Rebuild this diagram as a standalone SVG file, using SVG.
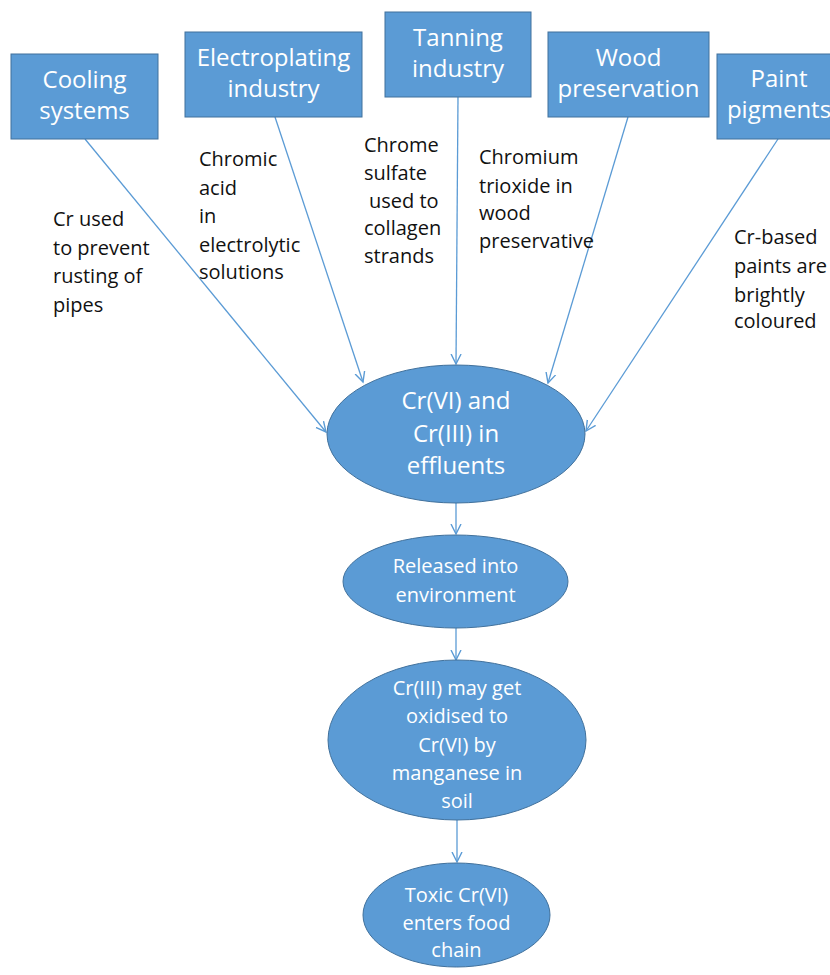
<svg xmlns="http://www.w3.org/2000/svg" width="830" height="975" viewBox="0 0 830 975">
<defs>
<style>
.box{fill:#5B9BD5;stroke:#41719C;stroke-width:1}
.ell{fill:#5B9BD5;stroke:#41719C;stroke-width:1}
.bt{font-family:"Open Sans","Liberation Sans",sans-serif;font-size:24px;fill:#fff;text-anchor:middle}
.et{font-family:"Open Sans","Liberation Sans",sans-serif;font-size:24px;fill:#fff;text-anchor:middle}
.st{font-family:"Open Sans","Liberation Sans",sans-serif;font-size:20px;fill:#fff;text-anchor:middle}
.an{font-family:"Open Sans","Liberation Sans",sans-serif;font-size:20px;fill:#111}
.cn{stroke:#5B9BD5;stroke-width:1.3;fill:none;marker-end:url(#ah)}
</style>
<marker id="ah" markerUnits="userSpaceOnUse" markerWidth="12" markerHeight="12" refX="10" refY="5" orient="auto" viewBox="0 0 12 10">
<path d="M0,0 L10,5 L0,10" fill="none" stroke="#5B9BD5" stroke-width="1.4"/>
</marker>
</defs>
<rect width="830" height="975" fill="#fff"/>

<g id="connectors">
<line class="cn" x1="85" y1="139" x2="326" y2="432"/>
<line class="cn" x1="275" y1="117" x2="363" y2="382"/>
<line class="cn" x1="458" y1="97" x2="456" y2="364"/>
<line class="cn" x1="628" y1="117" x2="548" y2="383"/>
<line class="cn" x1="778" y1="139" x2="586" y2="431"/>
<line class="cn" x1="456" y1="503" x2="456" y2="534"/>
<line class="cn" x1="456" y1="628" x2="456" y2="660"/>
<line class="cn" x1="457" y1="820" x2="457" y2="862"/>
</g>

<g id="cooling">
<rect class="box" x="11" y="54" width="147" height="85"/>
<text class="bt" x="84.5" y="88">Cooling</text>
<text class="bt" x="84.5" y="119">systems</text>
</g>
<g id="electroplating">
<rect class="box" x="185" y="32" width="177" height="85"/>
<text class="bt" x="273.5" y="66">Electroplating</text>
<text class="bt" x="273.5" y="97">industry</text>
</g>
<g id="tanning">
<rect class="box" x="385" y="12" width="146" height="85"/>
<text class="bt" x="458" y="46">Tanning</text>
<text class="bt" x="458" y="77">industry</text>
</g>
<g id="wood">
<rect class="box" x="548" y="32" width="161" height="85"/>
<text class="bt" x="628.5" y="66">Wood</text>
<text class="bt" x="628.5" y="97">preservation</text>
</g>
<g id="paint">
<rect class="box" x="717" y="54" width="116" height="85"/>
<text class="bt" x="779" y="87">Paint</text>
<text class="bt" x="779" y="118">pigments</text>
</g>

<g id="label-cooling">
<text class="an" x="53" y="226">Cr used</text>
<text class="an" x="53" y="255">to prevent</text>
<text class="an" x="53" y="283">rusting of</text>
<text class="an" x="53" y="312">pipes</text>
</g>
<g id="label-electroplating">
<text class="an" x="199" y="166">Chromic</text>
<text class="an" x="199" y="195">acid</text>
<text class="an" x="199" y="223">in</text>
<text class="an" x="199" y="252">electrolytic</text>
<text class="an" x="199" y="279">solutions</text>
</g>
<g id="label-tanning">
<text class="an" x="364" y="152">Chrome</text>
<text class="an" x="364" y="180">sulfate</text>
<text class="an" x="369" y="208">used to</text>
<text class="an" x="364" y="235">collagen</text>
<text class="an" x="364" y="263">strands</text>
</g>
<g id="label-wood">
<text class="an" x="479" y="164">Chromium</text>
<text class="an" x="479" y="193">trioxide in</text>
<text class="an" x="479" y="220">wood</text>
<text class="an" x="479" y="248">preservative</text>
</g>
<g id="label-paint">
<text class="an" x="734" y="244">Cr-based</text>
<text class="an" x="734" y="273">paints are</text>
<text class="an" x="734" y="302">brightly</text>
<text class="an" x="734" y="328">coloured</text>
</g>

<g id="effluents">
<ellipse class="ell" cx="456" cy="434" rx="129" ry="69"/>
<text class="et" x="456" y="409">Cr(VI) and</text>
<text class="et" x="456" y="442">Cr(III) in</text>
<text class="et" x="456" y="474">effluents</text>
</g>
<g id="released">
<ellipse class="ell" cx="455.5" cy="581.5" rx="112.5" ry="46.5"/>
<text class="st" x="455.5" y="573">Released  into</text>
<text class="st" x="455.5" y="602">environment</text>
</g>
<g id="oxidised">
<ellipse class="ell" cx="457" cy="740" rx="129" ry="80"/>
<text class="st" x="457" y="695">Cr(III)  may get</text>
<text class="st" x="457" y="723">oxidised to</text>
<text class="st" x="457" y="752">Cr(VI)  by</text>
<text class="st" x="457" y="780">manganese  in</text>
<text class="st" x="457" y="808">soil</text>
</g>
<g id="foodchain">
<ellipse class="ell" cx="456.5" cy="915" rx="93.5" ry="52"/>
<text class="st" x="456.5" y="902">Toxic Cr(VI)</text>
<text class="st" x="456.5" y="930">enters  food</text>
<text class="st" x="456.5" y="957">chain</text>
</g>
</svg>
